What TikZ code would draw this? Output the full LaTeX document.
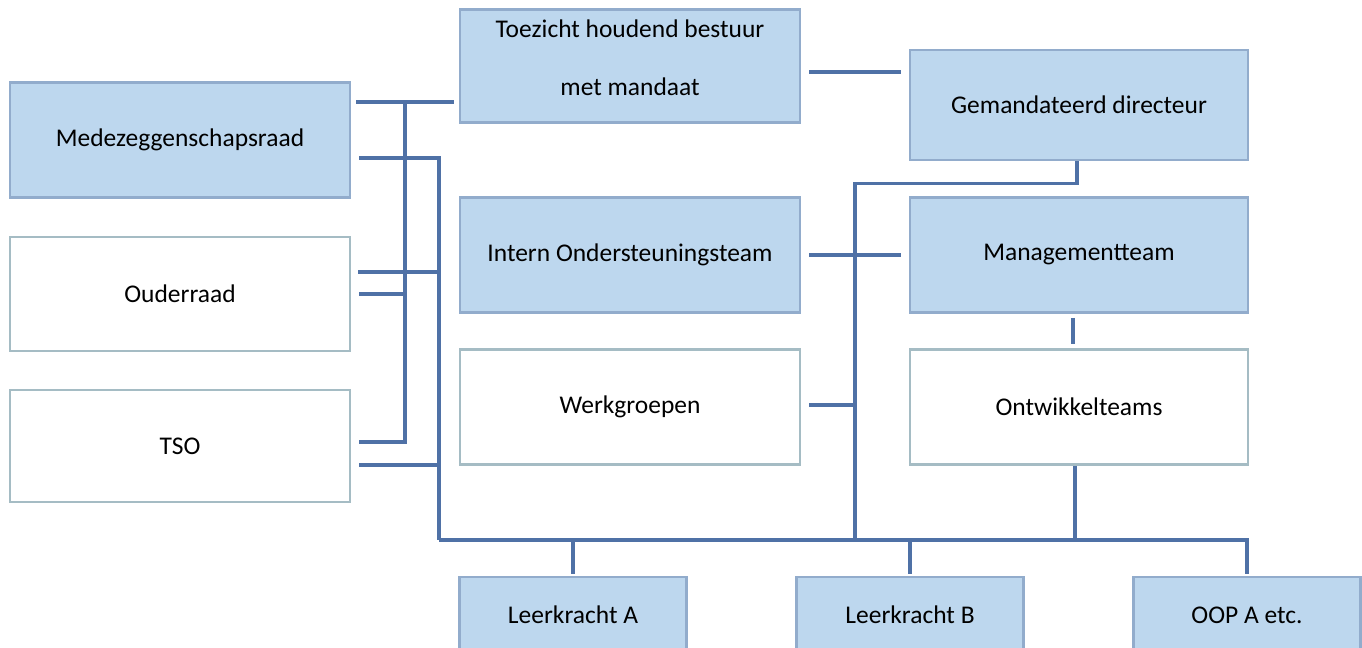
\documentclass[tikz,border=0pt]{standalone}
\usepackage{fontspec}
\setmainfont{Carlito}
\usepackage{tikz}
\usetikzlibrary{calc}

\definecolor{lijnblauw}{RGB}{79,113,166}
\definecolor{vakblauw}{RGB}{189,215,238}
\definecolor{randblauw}{RGB}{146,172,204}
\definecolor{randgrijs}{RGB}{165,188,196}

\begin{document}
\begin{tikzpicture}[
    x=0.02cm, y=-0.02cm,
    vak/.style={draw=randblauw, line width=1.6pt, rectangle, minimum width=6.8cm, minimum height=2.3cm, inner sep=0pt, align=center, font=\fontsize{14.5}{17}\selectfont},
    blauw/.style={vak, fill=vakblauw},
    wit/.style={vak, draw=randgrijs, fill=white},
    klein/.style={blauw, minimum width=4.54cm, minimum height=1.52cm},
    verb/.style={draw=lijnblauw, line width=2pt}
]
    \clip (0,0) rectangle (1362,648);

    % Linker kolom
    \node[blauw] (med) at (180,140) {Medezeggenschapsraad};
    \node[wit, minimum height=2.28cm] (ouder) at (180,294) {Ouderraad};
    \node[wit, minimum height=2.24cm] (tso) at (180,446) {TSO};

    % Middelste kolom
    \node[blauw, minimum height=2.26cm] (toez) at (630,66) {\raisebox{-0.5pt}[0pt][0pt]{\begin{tabular}{@{}c@{}}Toezicht houdend bestuur\\[16pt]met mandaat\end{tabular}}};
    \node[blauw] (intern) at (630,255) {Intern Ondersteuningsteam};
    \node[wit] (werk) at (630,407) {Werkgroepen};

    % Rechter kolom
    \node[blauw, minimum width=6.76cm, minimum height=2.2cm] (dir) at (1079,105) {Gemandateerd directeur};
    \node[blauw, minimum width=6.76cm] (mt) at (1079,255) {Managementteam};
    \node[wit, minimum width=6.76cm] (ontw) at (1079,407) {Ontwikkelteams};

    % Onderste rij
    \node[klein] (lkA) at (573,615) {Leerkracht A};
    \node[klein] (lkB) at (910,615) {Leerkracht B};
    \node[klein] (oop) at (1247,615) {OOP A etc.};

    % Rails en bus
    \coordinate (railL) at (405,0);
    \coordinate (railR) at (439,0);
    \coordinate (railM) at (855,0);
    \coordinate (bus) at (0,540);

    % Lijnen links
    \draw[verb] ($(med.east)+(5,-38)$) coordinate (m1) -- ($(toez.west)+(-5,36)$);
    \draw[verb] ($(med.east)+(8,18)$) coordinate (m2) -- (m2 -| railR) -- (railR |- bus);
    \draw[verb] ($(ouder.east)+(7,-22)$) coordinate (o1) -- (o1 -| railR);
    \draw[verb] ($(ouder.east)+(8,0)$) coordinate (o2) -- (o2 -| railL);
    \draw[verb] ($(tso.east)+(8,-4)$) coordinate (t1) -- (t1 -| railL) -- (railL |- m1);
    \draw[verb] ($(tso.east)+(8,19)$) coordinate (t2) -- (t2 -| railR);

    % Lijnen rechts
    \draw[verb] ($(toez.east)+(8,6)$) -- ($(dir.west)+(-8,-33)$);
    \draw[verb] ($(dir.south)+(-2,0)$) -- ++(0,22) coordinate (d1) -- (d1 -| railM) -- (railM |- bus);
    \draw[verb] ($(intern.east)+(8,0)$) -- ($(mt.west)+(-8,0)$);
    \draw[verb] ($(werk.east)+(8,-2)$) coordinate (w1) -- (w1 -| railM);
    \draw[verb] ($(mt.south)+(-6,4)$) -- ($(ontw.north)+(-6,-4)$);
    \draw[verb] ($(ontw.south)+(-4,0)$) coordinate (o3) -- (o3 |- bus);

    % Bus naar onderste rij
    \draw[verb, line width=2.4pt] (railR |- bus) -- (ontw.east |- bus);
    \foreach \n in {lkA, lkB, oop} {
        \draw[verb] (\n.north |- bus) -- ($(\n.north)+(0,-2)$);
    }

\end{tikzpicture}
\end{document}
